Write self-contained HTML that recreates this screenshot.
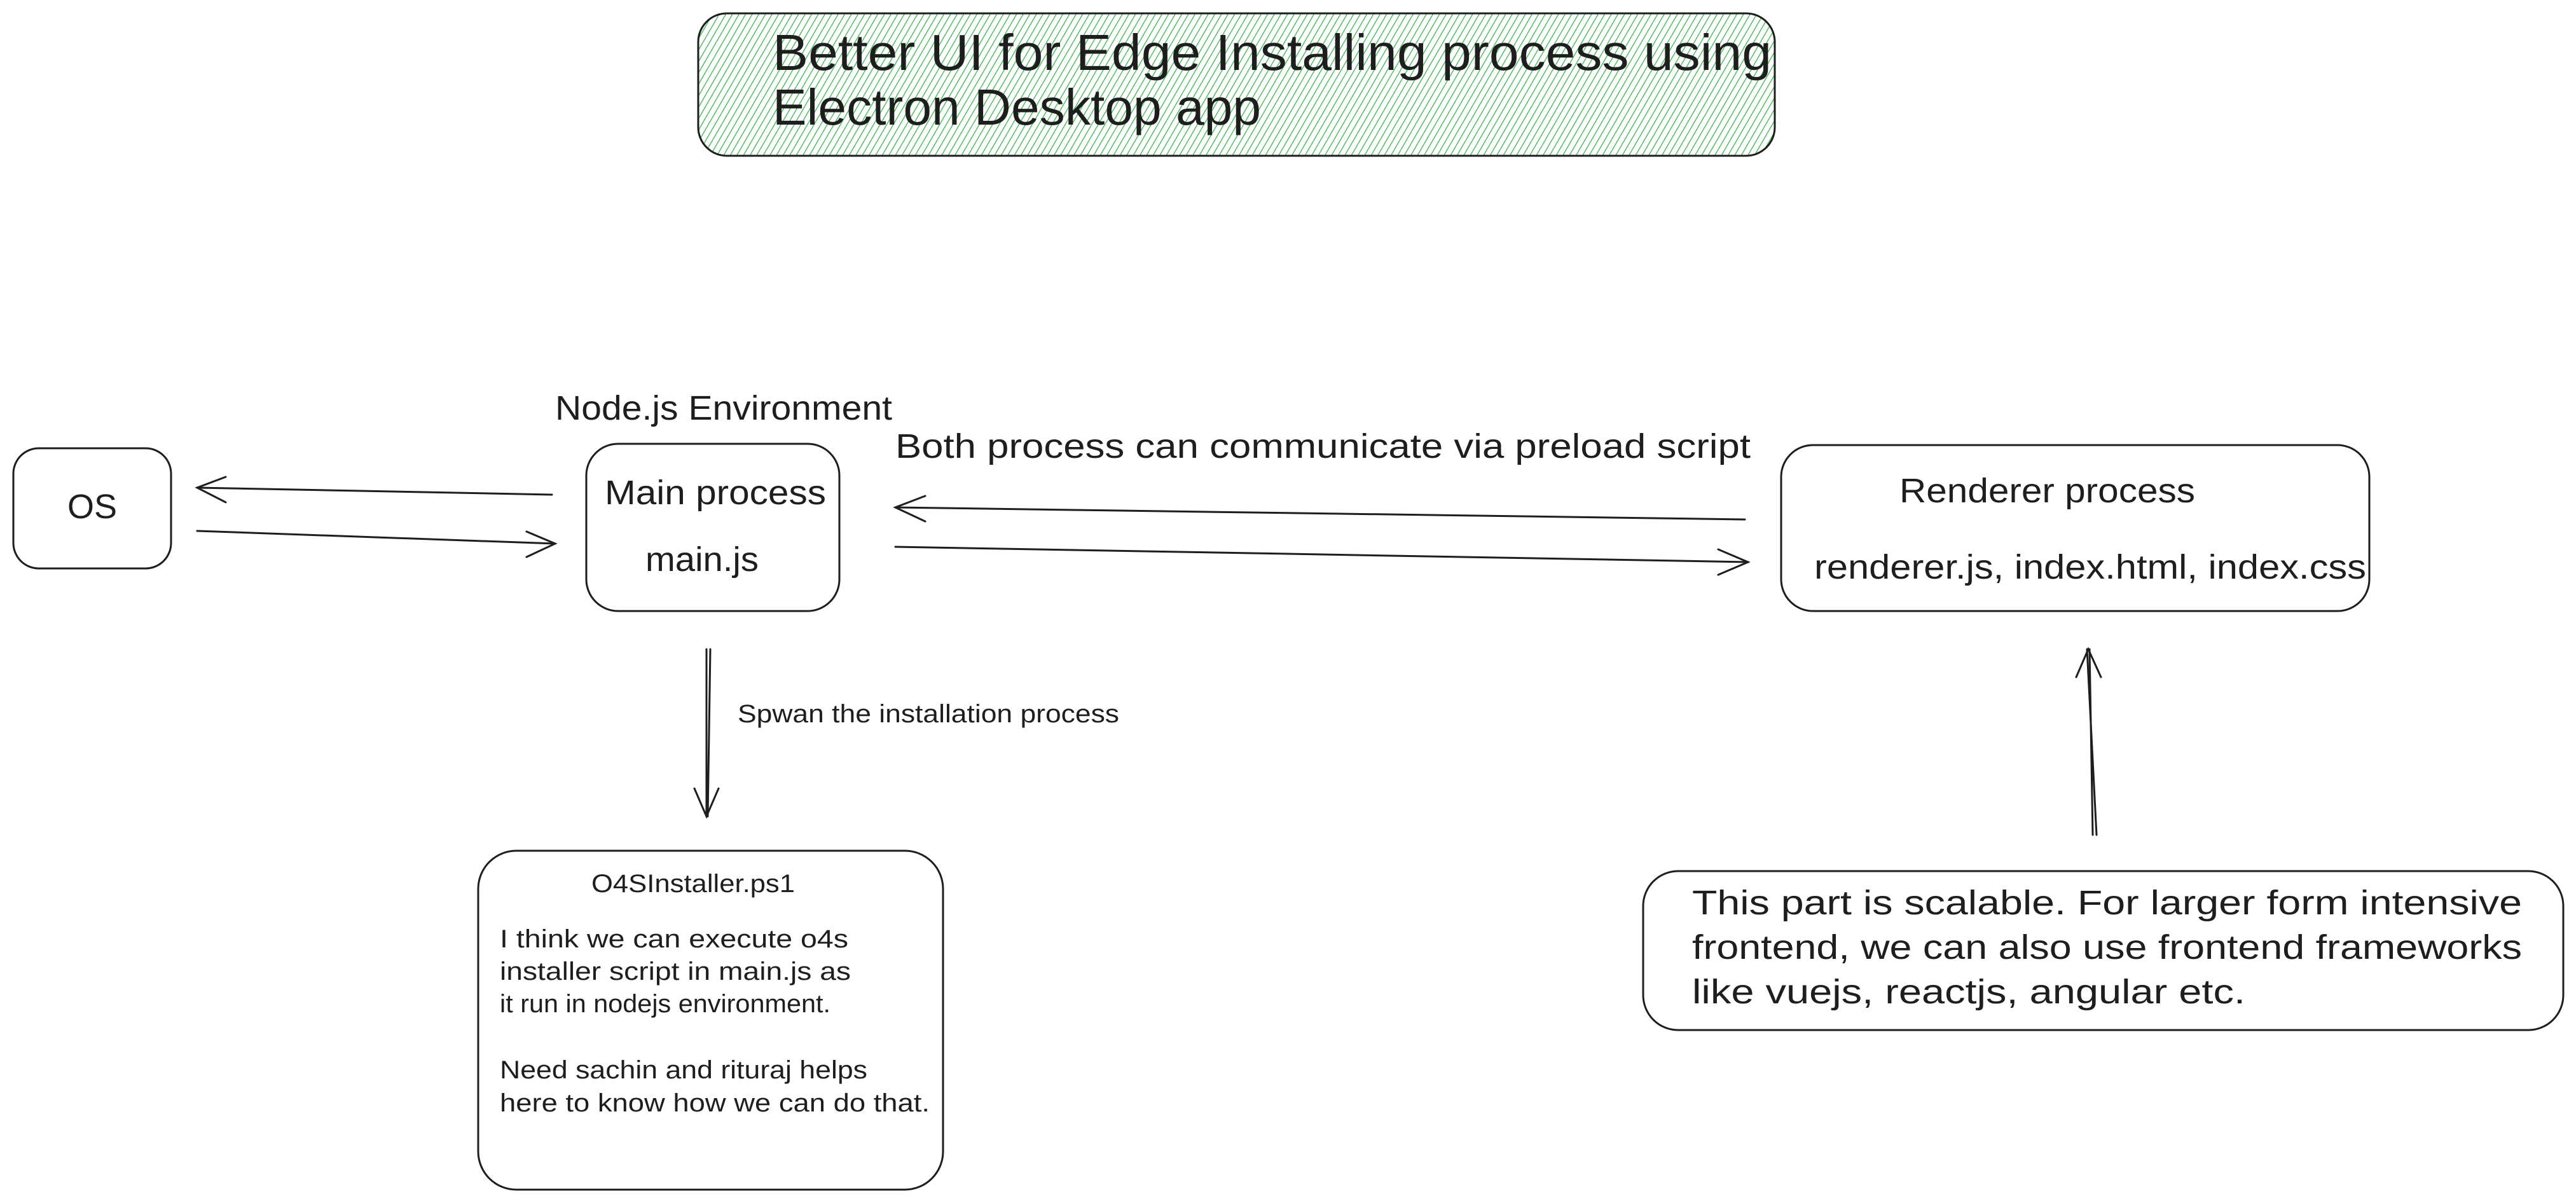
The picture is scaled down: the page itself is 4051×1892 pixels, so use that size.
<!DOCTYPE html>
<html><head><meta charset="utf-8"><style>html,body{margin:0;padding:0;background:#fff}svg{display:block}</style></head><body>
<svg width="4051" height="1892" viewBox="0 0 4051 1892" xmlns="http://www.w3.org/2000/svg" font-family="Liberation Sans, sans-serif" fill="#1e1e1e">
<defs>
<pattern id="h" width="9" height="9" patternUnits="userSpaceOnUse" patternTransform="rotate(30)">
<line x1="0" y1="0" x2="0" y2="9" stroke="#2fb344" stroke-width="2.5"/>
</pattern>
<marker id="a" markerWidth="12" markerHeight="12" refX="11" refY="6" orient="auto" markerUnits="userSpaceOnUse" viewBox="0 0 12 12">
<path d="M0,0 L11,6 L0,12" fill="none" stroke="#1e1e1e" stroke-width="1.2"/>
</marker>
</defs>
<g fill="none" stroke="#1e1e1e" stroke-width="3">
<rect x="1098" y="21" width="1693" height="224" rx="45" fill="url(#h)"/>
<rect x="21" y="705" width="248" height="189" rx="40"/>
<rect x="922" y="698" width="398" height="263" rx="50"/>
<rect x="2801" y="700" width="925" height="261" rx="50"/>
<rect x="752" y="1338" width="731" height="533" rx="60"/>
<rect x="2584" y="1370" width="1447" height="250" rx="55"/>
</g>
<g fill="none" stroke="#1e1e1e" stroke-width="3" stroke-linecap="round">
<line x1="868" y1="778" x2="310" y2="767"/><path d="M355,750 L310,767 L355,790"/>
<line x1="310" y1="835" x2="873" y2="855"/><path d="M828,836 L873,855 L828,876"/>
<line x1="2744" y1="817" x2="1408" y2="798"/><path d="M1455,780 L1408,798 L1455,820"/>
<line x1="1408" y1="860" x2="2749" y2="884"/><path d="M2702,864 L2749,884 L2702,904"/>
<line x1="1111" y1="1021" x2="1111" y2="1284"/><line x1="1117" y1="1021" x2="1113" y2="1284"/><path d="M1092,1240 L1111,1284 L1130,1240"/>
<line x1="3297" y1="1313" x2="3282" y2="1021"/><line x1="3291" y1="1313" x2="3286" y2="1021"/><path d="M3265,1065 L3284,1021 L3304,1065"/>
</g>
<g font-size="80">
<text x="1215" y="110" textLength="1571" lengthAdjust="spacingAndGlyphs">Better UI for Edge Installing process using</text>
<text x="1215" y="196" textLength="768" lengthAdjust="spacingAndGlyphs">Electron Desktop app</text>
</g>
<g font-size="54">
<text x="145" y="815" text-anchor="middle">OS</text>
<text x="873" y="660" textLength="530" lengthAdjust="spacingAndGlyphs">Node.js Environment</text>
<text x="951" y="793" textLength="348" lengthAdjust="spacingAndGlyphs">Main process</text>
<text x="1015" y="898" textLength="178" lengthAdjust="spacingAndGlyphs">main.js</text>
<text x="1408" y="720" textLength="1345" lengthAdjust="spacingAndGlyphs">Both process can communicate via preload script</text>
<text x="2987" y="790" textLength="465" lengthAdjust="spacingAndGlyphs">Renderer process</text>
<text x="2853" y="910" textLength="868" lengthAdjust="spacingAndGlyphs">renderer.js, index.html, index.css</text>
<text x="2661" y="1438" textLength="1305" lengthAdjust="spacingAndGlyphs">This part is scalable. For larger form intensive</text>
<text x="2661" y="1508" textLength="1305" lengthAdjust="spacingAndGlyphs">frontend, we can also use frontend frameworks</text>
<text x="2661" y="1578" textLength="870" lengthAdjust="spacingAndGlyphs">like vuejs, reactjs, angular etc.</text>
</g>
<g font-size="40">
<text x="1160" y="1136" textLength="600" lengthAdjust="spacingAndGlyphs">Spwan the installation process</text>
<text x="930" y="1403" textLength="320" lengthAdjust="spacingAndGlyphs">O4SInstaller.ps1</text>
<text x="786" y="1490" textLength="548" lengthAdjust="spacingAndGlyphs">I think we can execute o4s</text>
<text x="786" y="1541" textLength="552" lengthAdjust="spacingAndGlyphs">installer script in main.js as</text>
<text x="786" y="1592" textLength="520" lengthAdjust="spacingAndGlyphs">it run in nodejs environment.</text>
<text x="786" y="1696" textLength="578" lengthAdjust="spacingAndGlyphs">Need sachin and rituraj helps</text>
<text x="786" y="1748" textLength="676" lengthAdjust="spacingAndGlyphs">here to know how we can do that.</text>
</g>
</svg>
</body></html>
